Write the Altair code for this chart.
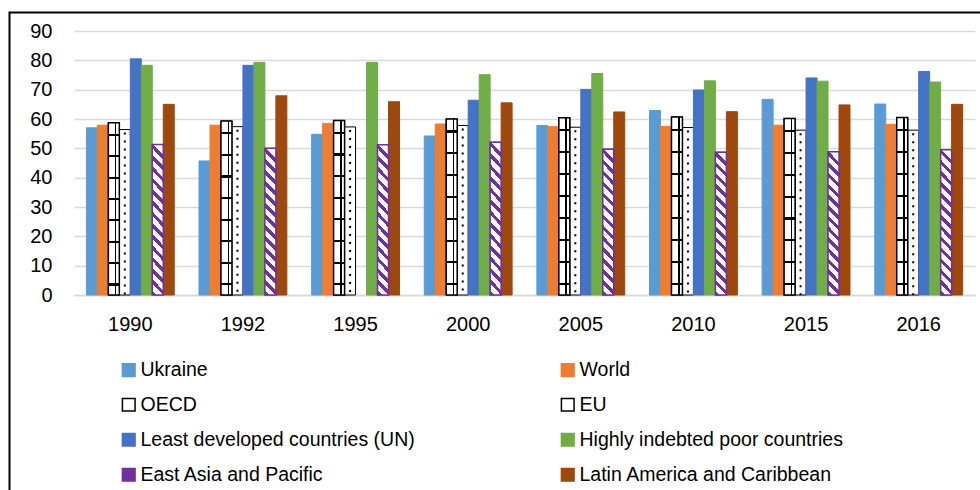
import altair as alt
import pandas as pd

# Categories and series
years = ["1990", "1992", "1995", "2000", "2005", "2010", "2015", "2016"]
series = [
    "Ukraine",
    "World",
    "OECD",
    "EU",
    "Least developed countries (UN)",
    "Highly indebted poor countries",
    "East Asia and Pacific",
    "Latin America and Caribbean",
]

ukraine = [57.0, 45.7, 54.8, 54.2, 57.8, 62.9, 66.7, 65.1]
world = [57.9, 57.9, 58.5, 58.3, 57.4, 57.5, 57.9, 58.2]
oecd = [58.7, 59.3, 59.5, 60.0, 60.4, 60.7, 60.2, 60.5]
eu = [56.4, 57.4, 57.3, 57.8, 57.2, 57.1, 56.2, 56.2]
ldc = [80.5, 78.3, None, 66.4, 70.1, 69.9, 74.0, 76.2]
hipc = [78.3, 79.3, 79.3, 75.1, 75.5, 73.0, 72.9, 72.6]
eap = [51.3, 50.0, 51.2, 52.1, 49.7, 48.7, 48.8, 49.5]
lac = [65.0, 67.9, 65.9, 65.5, 62.4, 62.5, 64.8, 65.0]

y_ticks = [0, 10, 20, 30, 40, 50, 60, 70, 80, 90]

fills = ["#5B9BD5", "#ED7D31", "#FFFFFF", "#FFFFFF", "#4472C4", "#70AD47", "#7030A0", "#9E480E"]
strokes = ["#5B9BD5", "#ED7D31", "#000000", "#000000", "#4472C4", "#70AD47", "#7030A0", "#9E480E"]

rows = []
for name, vals in zip(series, [ukraine, world, oecd, eu, ldc, hipc, eap, lac]):
    for yr, v in zip(years, vals):
        if v is not None:
            rows.append({"year": yr, "series": name, "value": v})
df = pd.DataFrame(rows)

FONT = "Liberation Sans, Arial, sans-serif"
W, H = 901, 264


def stop(color, offset):
    return alt.GradientStop(color=color, offset=round(min(max(offset, 0.0), 1.0), 4))


# Horizontal black lines on white (OECD brick pattern)
def hline_stops(start, period, thick):
    s = [stop("white", 0)]
    a = start
    while a + thick < 1:
        s += [stop("white", a), stop("black", a), stop("black", a + thick), stop("white", a + thick)]
        a += period
    s.append(stop("white", 1))
    return s


# Diagonal purple stripes on white (East Asia and Pacific)
def stripe_stops(period, frac, color):
    s = []
    a = 0.0
    while a < 1:
        b = min(a + period * frac, 1)
        c = min(a + period, 1)
        s += [stop(color, a), stop(color, b), stop("white", b), stop("white", c)]
        a += period
    return s


oecd_lines = alt.Gradient(
    gradient="linear", x1=0, y1=0, x2=0, y2=1,
    stops=hline_stops(0.065, 0.124, 0.012),
)
oecd_vline = alt.Gradient(
    gradient="linear", x1=0, y1=0, x2=1, y2=0,
    stops=[
        stop("rgba(0,0,0,0)", 0), stop("rgba(0,0,0,0)", 0.6),
        stop("black", 0.6), stop("black", 0.74),
        stop("rgba(0,0,0,0)", 0.74), stop("rgba(0,0,0,0)", 1),
    ],
)
eap_stripes = alt.Gradient(
    gradient="linear", x1=0, y1=1, x2=0.077, y2=0,
    stops=stripe_stops(1 / 13.4, 0.42, "#7030A0"),
)

x_enc = alt.X(
    "year:N", sort=years, title=None,
    scale=alt.Scale(paddingInner=0.22, paddingOuter=0.11),
    axis=alt.Axis(
        labelAngle=0, ticks=False, domain=True, domainColor="#d9d9d9", domainWidth=1.5,
        labelFont=FONT, labelFontSize=20, labelColor="#000000", labelPadding=19,
        grid=False,
    ),
)
xo_enc = alt.XOffset(
    "series:N", sort=series,
    scale=alt.Scale(domain=series, paddingInner=0, paddingOuter=0),
)
y_enc = alt.Y(
    "value:Q", title=None,
    scale=alt.Scale(domain=[0, 90], nice=False),
    axis=alt.Axis(
        values=y_ticks, domain=False, ticks=False, grid=True,
        gridColor="#d9d9d9", gridWidth=1.5,
        labelFont=FONT, labelFontSize=20, labelColor="#000000", labelPadding=22,
    ),
)

legend = alt.Legend(
    orient="none", legendX=45, legendY=329, columns=2, direction="horizontal",
    symbolType="square", symbolSize=160, symbolStrokeWidth=1.5,
    labelFont=FONT, labelFontSize=19.5, labelColor="#000000",
    labelLimit=600, rowPadding=14, columnPadding=143, labelOffset=2,
    padding=0,
)

base = alt.Chart(df)

bars = base.mark_bar(strokeWidth=1).encode(
    x=x_enc,
    xOffset=xo_enc,
    y=y_enc,
    fill=alt.Fill(
        "series:N", sort=series, title=None,
        scale=alt.Scale(domain=series, range=fills), legend=legend,
    ),
    stroke=alt.Stroke(
        "series:N", sort=series, title=None,
        scale=alt.Scale(domain=series, range=strokes), legend=legend,
    ),
)

oecd_fill = base.transform_filter(alt.datum.series == "OECD").mark_bar(
    fill=oecd_lines, stroke="black", strokeWidth=1.5
).encode(x=x_enc, xOffset=xo_enc, y=y_enc)

oecd_bar_line = base.transform_filter(alt.datum.series == "OECD").mark_bar(
    fill=oecd_vline, strokeWidth=0
).encode(x=x_enc, xOffset=xo_enc, y=y_enc)

eu_dots = base.transform_filter(alt.datum.series == "EU").mark_rule(
    color="black", strokeWidth=2, strokeDash=[2, 6], strokeDashOffset=-3, xOffset=2.5
).encode(x=x_enc, xOffset=xo_enc, y=y_enc, y2=alt.datum(0))

eap_fill = base.transform_filter(alt.datum.series == "East Asia and Pacific").mark_bar(
    fill=eap_stripes, stroke="#7030A0", strokeWidth=1.5
).encode(x=x_enc, xOffset=xo_enc, y=y_enc)

frame = alt.Chart(pd.DataFrame({"k": [0]})).mark_rect(
    fillOpacity=0, stroke="black", strokeWidth=2
).encode(
    x=alt.value(-64.5), x2=alt.value(1000), y=alt.value(-18.5), y2=alt.value(600)
)

chart = (
    alt.layer(frame, bars, oecd_fill, oecd_bar_line, eu_dots, eap_fill)
    .properties(
        width=W, height=H,
        autosize=alt.AutoSizeParams(type="none"),
        padding={"left": 74, "top": 31, "right": 5, "bottom": 195},
        background="white",
    )
    .configure_view(stroke=None)
)

chart.save("out.html", embed_options={"renderer": "svg", "actions": False})
